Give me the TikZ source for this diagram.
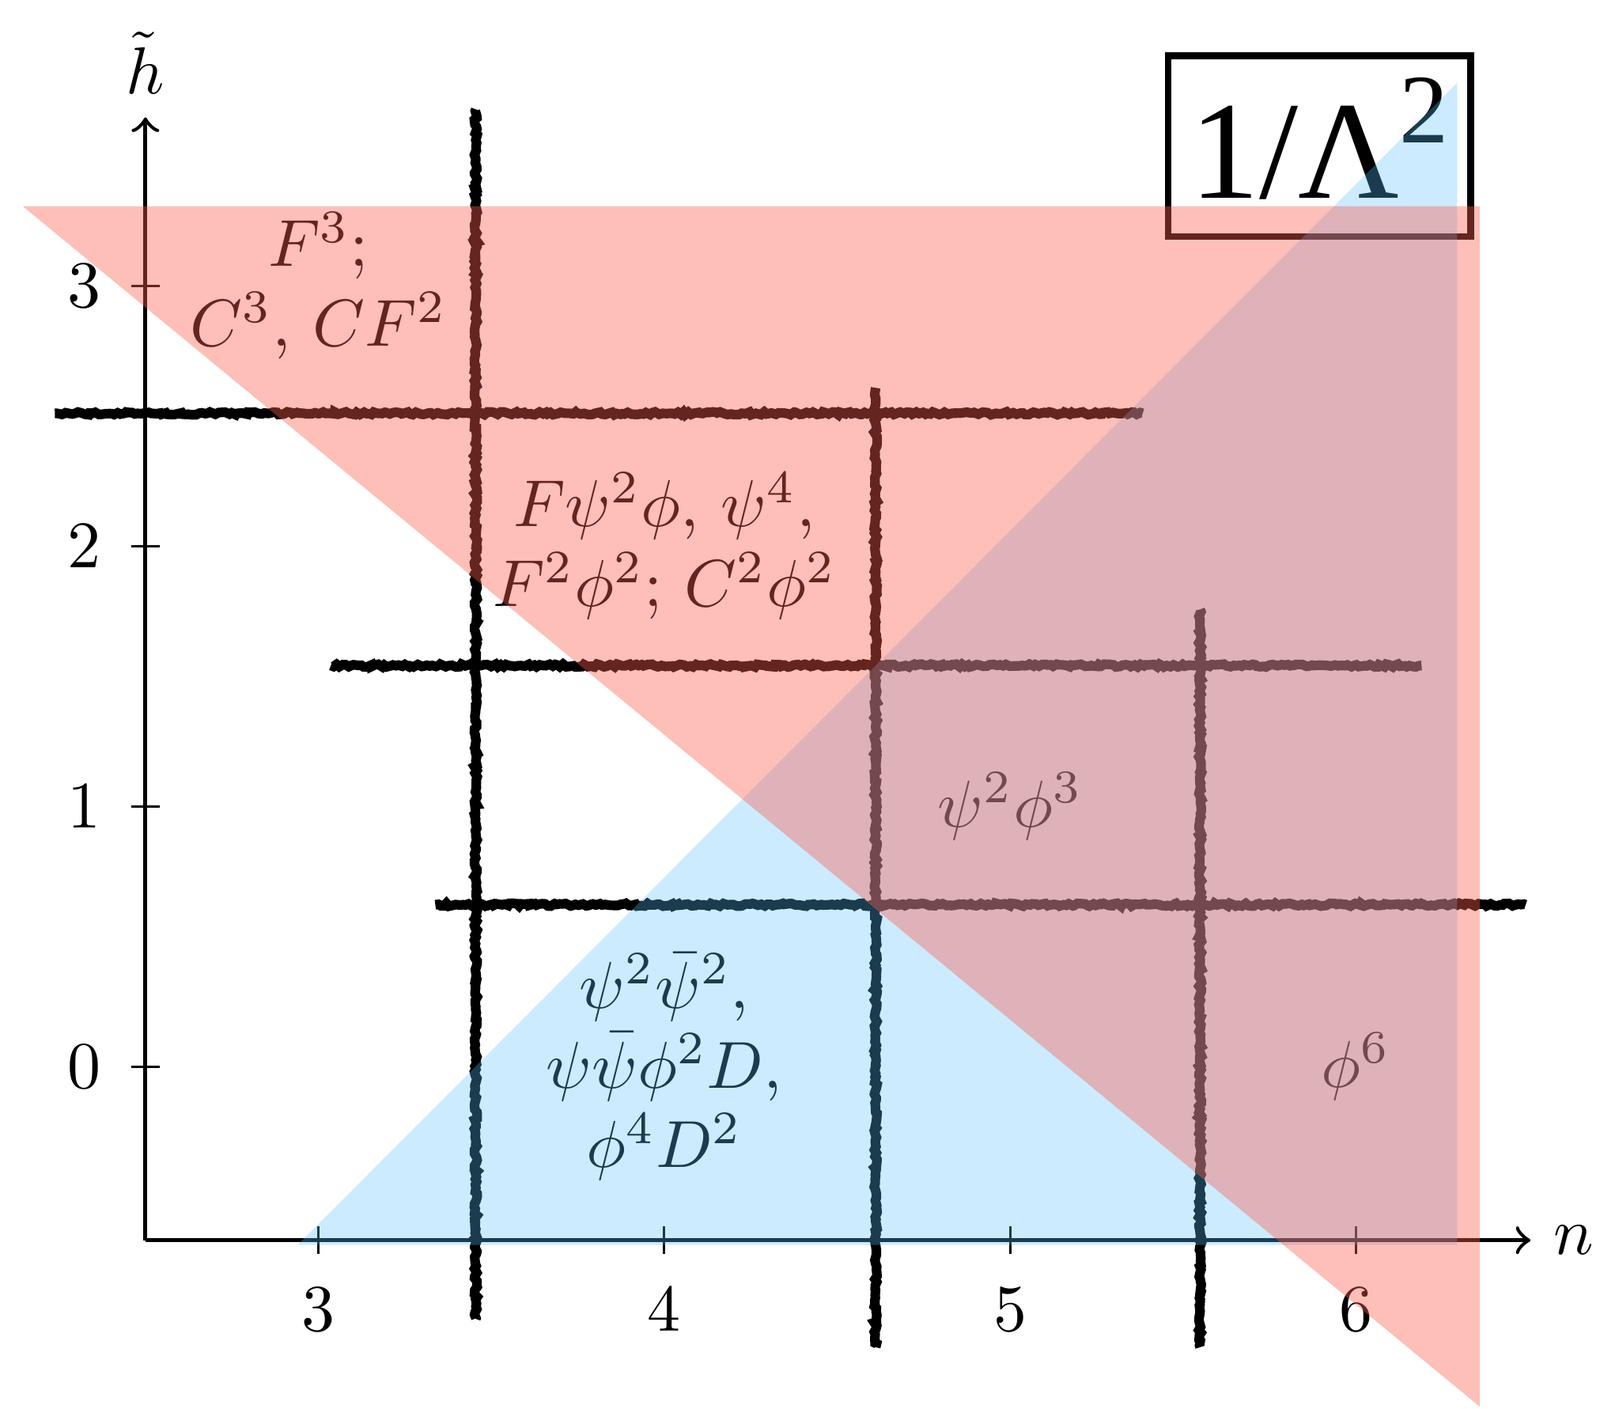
\documentclass[tikz,border=0pt]{standalone}
\usepackage{fontspec}
\newfontfamily\boxfont{Liberation Serif}
\usetikzlibrary{decorations.pathmorphing}
\definecolor{redzone}{RGB}{251,94,78}
\definecolor{bluezone}{RGB}{89,191,255}
\tikzset{axisline/.style={line width=0.6pt,->},
 tickline/.style={line width=0.35pt},
 rough/.style={line width=1.45pt,decorate,decoration={random steps,segment length=0.45pt,amplitude=0.22pt}},
 ops/.style={align=center},
 hot/.style={fill=redzone,fill opacity=0.4},
 cold/.style={fill=bluezone,fill opacity=0.31}}
\tikzset{scalebox/.style={draw,line width=1pt,inner sep=3.3pt,text depth=2.4pt,
 font=\boxfont\fontsize{21}{25}\selectfont}}

\begin{document}
\begin{tikzpicture}[x=1.8302cm,y=1.3767cm]
\useasboundingbox (2.0796,-1.3137) rectangle (6.7050,4.0980);
% axes
\coordinate (o) at (2.5,-0.667);
\coordinate (xend) at (6.504,-0.667);
\coordinate (yend) at (2.5,3.647);
\draw[axisline] (o) -- (xend);
\draw[axisline] (o) -- (yend);
\node[right] (nlab) at (xend) {$n$};
\node[above] (hlab) at (yend) {$\tilde h$};
\foreach \n in {3,4,5,6} {
 \draw[tickline] (\n,-0.667) ++(0,-2.1pt) -- ++(0,4.2pt);
 \node[anchor=north] (xt\n) at (\n,-0.76) {$\n$};
}
\foreach \h in {0,1,2,3} {
 \draw[tickline] (2.5,\h) ++(-2.1pt,0) -- ++(4.2pt,0);
 \node[anchor=east] (yt\h) at (2.44,\h) {$\h$};
}
% rough grid
\draw[rough] (3.455,3.678) -- (3.455,-0.969);
\draw[rough] (4.611,2.608) -- (4.611,-1.078);
\draw[rough] (5.549,1.757) -- (5.549,-1.078);
\draw[rough] (2.238,2.510) -- (5.383,2.510);
\draw[rough] (3.036,1.541) -- (6.189,1.541);
\draw[rough] (3.338,0.622) -- (6.490,0.622);
% operators
\node[ops] (f3) at (3,3) {$F^3;$\\$C^3$, $CF^2$};
\node[ops] (fpsi) at (4,2) {$F\psi^2\phi$, $\psi^4$,\\$F^2\phi^2$; $C^2\phi^2$};
\node[ops] (psiphi) at (5,1) {$\psi^2\phi^3$};
\node[ops] (psibar) at (4,0) {$\psi^2\bar\psi^2$,\\$\psi\bar\psi\phi^2D$,\\$\phi^4D^2$};
\node[ops] (phi6) at (6,0) {$\phi^6$};
\node[scalebox] (lam) at (5.894,3.537) {1/Λ\raisebox{8.4pt}{\fontsize{14.8}{17}\selectfont 2}};
% regions
\fill[cold] (2.94,-0.685) -- (6.292,-0.685) -- (6.292,3.78) -- cycle;
\fill[hot] (2.145,3.306) -- (6.357,3.306) -- (6.357,-1.306) -- cycle;
\end{tikzpicture}
\end{document}
